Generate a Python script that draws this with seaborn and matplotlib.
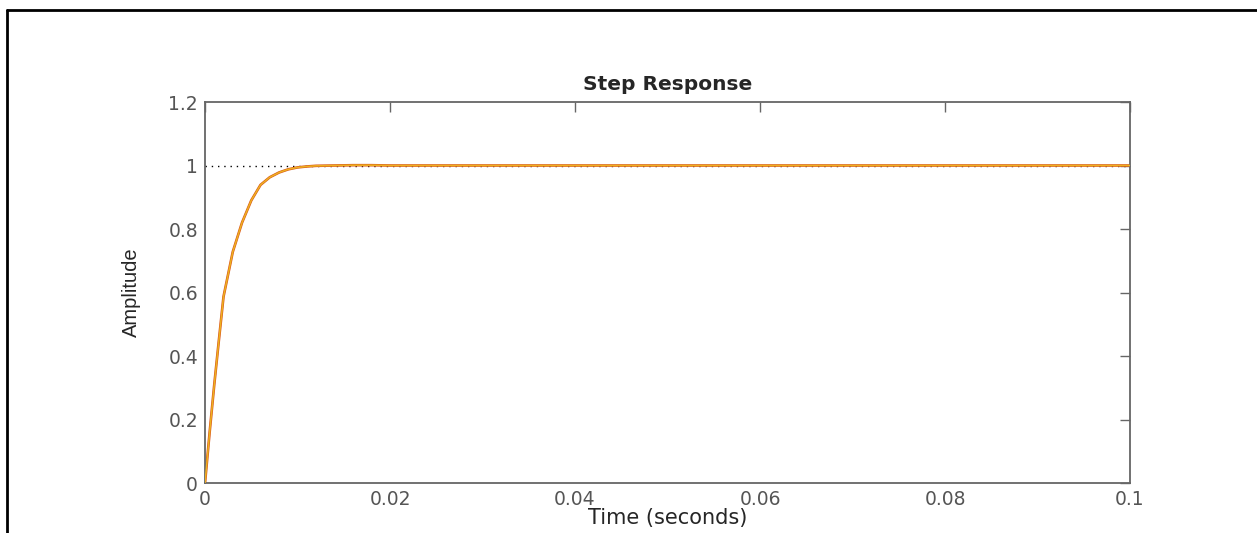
import matplotlib
matplotlib.use("Agg")
import matplotlib.pyplot as plt
import seaborn as sns
import pandas as pd
from matplotlib.lines import Line2D

# step response samples
time_s = [0.0, 0.0005, 0.001, 0.0015, 0.002, 0.003, 0.004, 0.005, 0.006, 0.007,
          0.008, 0.009, 0.010, 0.011, 0.012, 0.014, 0.016, 0.018, 0.020, 0.025,
          0.030, 0.040, 0.050, 0.060, 0.070, 0.080, 0.090, 0.100]
amplitude = [0.0, 0.16, 0.31, 0.45, 0.587, 0.728, 0.82, 0.89, 0.939, 0.963,
             0.978, 0.988, 0.994, 0.997, 0.999, 1.0, 1.001, 1.001, 1.0, 1.0,
             1.0, 1.0, 1.0, 1.0, 1.0, 1.0, 1.0, 1.0]
steady_state = 1.0
x_ticks = [0, 0.02, 0.04, 0.06, 0.08, 0.1]
x_labels = ["0", "0.02", "0.04", "0.06", "0.08", "0.1"]
y_ticks = [0, 0.2, 0.4, 0.6, 0.8, 1, 1.2]
y_labels = ["0", "0.2", "0.4", "0.6", "0.8", "1", "1.2"]

sns.set_style("white")
plt.rcParams["font.family"] = ["DejaVu Sans"]

df = pd.DataFrame({"t": time_s, "y": amplitude})

fig = plt.figure(figsize=(12.57, 5.33), dpi=100)
ax = fig.add_axes([0.1631, 0.0938, 0.899 - 0.1631, 0.8086 - 0.0938])

ax.axhline(steady_state, color="black", linestyle=(0, (1, 3.5)), linewidth=1.0, zorder=1)
sns.lineplot(data=df, x="t", y="y", ax=ax, color="#D95319", linewidth=1.9, zorder=2)
sns.lineplot(data=df, x="t", y="y", ax=ax, color="#EDB120", linewidth=1.1, zorder=3)

ax.set_xlim(0, 0.1)
ax.set_ylim(0, 1.2)
ax.set_xticks(x_ticks)
ax.set_xticklabels(x_labels)
ax.set_yticks(y_ticks)
ax.set_yticklabels(y_labels)
ax.tick_params(direction="in", length=7, width=1, colors="#666666", labelsize=13.5,
               top=True, right=True, labelcolor="#555555", pad=5)
for sp in ax.spines.values():
    sp.set_color("#666666")
    sp.set_linewidth(1.3)

ax.set_title("Step Response", fontsize=14.5, fontweight="bold", pad=9)
ax.set_xlabel("Time (seconds)", fontsize=15, labelpad=-1)
ax.set_ylabel("Amplitude", fontsize=14.5, family=["Liberation Sans"], labelpad=20)

# black frame round the figure (top and left)
fig.add_artist(Line2D([0.0056, 1.0], [0.981, 0.981], transform=fig.transFigure,
                      color="black", linewidth=2))
fig.add_artist(Line2D([0.0056, 0.0056], [0.0, 0.981], transform=fig.transFigure,
                      color="black", linewidth=2))

fig.savefig("out.png", dpi=100)
